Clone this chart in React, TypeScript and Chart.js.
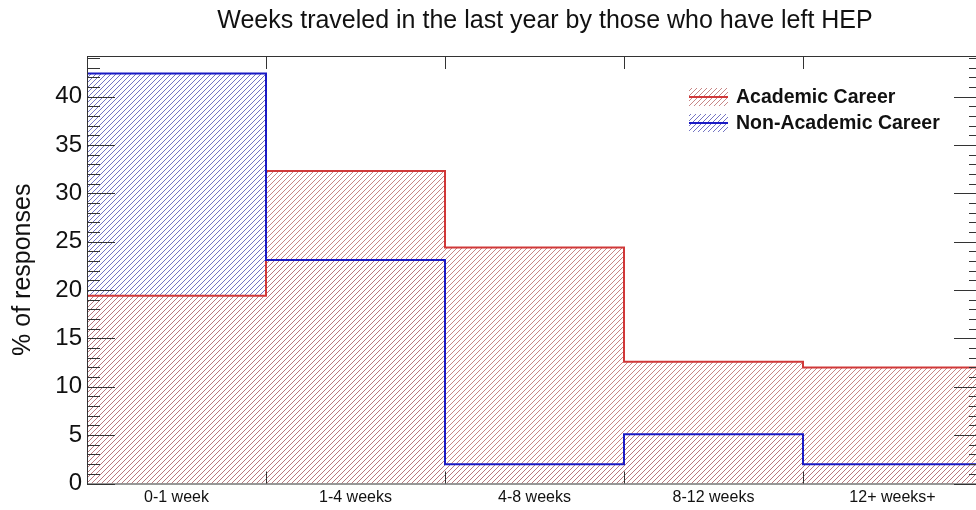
import React, { useEffect, useRef } from "react";
import { Chart, registerables } from "chart.js";

Chart.register(...registerables);

const FONT = "'Liberation Sans', Arial, Helvetica, sans-serif";

const titleText = "Weeks traveled in the last year by those who have left HEP";
const yTitle = "% of responses";
const categories = ["0-1 week", "1-4 weeks", "4-8 weeks", "8-12 weeks", "12+ weeks+"];
const academic = [19.4, 32.3, 24.4, 12.6, 12.0];
const nonAcademic = [42.4, 23.1, 2.0, 5.1, 2.0];
const seriesNames = ["Academic Career", "Non-Academic Career"];
const yTicks = [0, 5, 10, 15, 20, 25, 30, 35, 40];
const yMax = 44.2;

const RED_LINE = "#d03838";
const BLUE_LINE = "#1a1ac4";
const RED_HATCH = "#c27878";
const BLUE_HATCH = "#6464bc";

function makeHatch(color: string): CanvasPattern | string {
  const s = 5;
  const c = document.createElement("canvas");
  c.width = s;
  c.height = s;
  const g = c.getContext("2d");
  if (!g) return color;
  g.strokeStyle = color;
  g.lineWidth = 0.9;
  g.beginPath();
  g.moveTo(-1, s + 1);
  g.lineTo(s + 1, -1);
  g.moveTo(-1, 1);
  g.lineTo(1, -1);
  g.moveTo(s - 1, s + 1);
  g.lineTo(s + 1, s - 1);
  g.stroke();
  const p = g.createPattern(c, "repeat");
  return p || color;
}

function stepPoints(vals: number[]) {
  const pts = vals.map((v, i) => ({ x: i, y: v }));
  pts.push({ x: vals.length, y: vals[vals.length - 1] });
  return pts;
}

export default function App() {
  const ref = useRef<HTMLCanvasElement | null>(null);

  useEffect(() => {
    if (!ref.current) return;
    const redHatch = makeHatch(RED_HATCH);
    const blueHatch = makeHatch(BLUE_HATCH);

    const framePlugin = {
      id: "rootFrame",
      afterDraw(chart: any) {
        const { ctx, chartArea, scales } = chart;
        const { left, right, top, bottom } = chartArea;
        ctx.save();
        // title
        ctx.fillStyle = "#111";
        ctx.font = `25px ${FONT}`;
        ctx.textAlign = "center";
        ctx.textBaseline = "alphabetic";
        ctx.fillText(titleText, 545, 28);

        // frame
        ctx.strokeStyle = "#333";
        ctx.lineWidth = 1;
        ctx.strokeRect(left + 0.5, top + 0.5, right - left, bottom - top);

        // y ticks (major every 5, minor every 1)
        const ys = scales.y;
        ctx.beginPath();
        for (let v = 0; v <= Math.floor(yMax); v++) {
          const py = Math.round(ys.getPixelForValue(v)) + 0.5;
          const len = v % 5 === 0 ? 28 : 13;
          ctx.moveTo(left, py);
          ctx.lineTo(left + len, py);
          ctx.moveTo(right, py);
          ctx.lineTo(right - len, py);
        }
        // x ticks at bin edges
        const xs = scales.x;
        for (let i = 1; i < categories.length; i++) {
          const px = Math.round(xs.getPixelForValue(i)) + 0.5;
          ctx.moveTo(px, bottom);
          ctx.lineTo(px, bottom - 12);
          ctx.moveTo(px, top);
          ctx.lineTo(px, top + 13);
        }
        ctx.stroke();

        // legend
        const entries = [
          { name: seriesNames[0], hatch: redHatch, line: RED_LINE, y: 97 },
          { name: seriesNames[1], hatch: blueHatch, line: BLUE_LINE, y: 123 },
        ];
        for (const e of entries) {
          ctx.fillStyle = e.hatch as any;
          ctx.fillRect(689, e.y - 9, 39, 18);
          ctx.strokeStyle = e.line;
          ctx.lineWidth = 2;
          ctx.beginPath();
          ctx.moveTo(689, e.y);
          ctx.lineTo(728, e.y);
          ctx.stroke();
          ctx.fillStyle = "#111";
          ctx.font = `bold 19.5px ${FONT}`;
          ctx.textAlign = "left";
          ctx.textBaseline = "middle";
          ctx.fillText(e.name, 736, e.y + 1);
        }
        ctx.restore();
      },
    };

    const W = 1000;
    const chart = new Chart(ref.current, {
      type: "line",
      data: {
        datasets: [
          {
            label: seriesNames[1] + " line",
            data: stepPoints(nonAcademic),
            stepped: "before",
            borderColor: BLUE_LINE,
            borderWidth: 2,
            pointRadius: 0,
            fill: false,
            order: 1,
          },
          {
            label: seriesNames[0] + " line",
            data: stepPoints(academic),
            stepped: "before",
            borderColor: RED_LINE,
            borderWidth: 2,
            pointRadius: 0,
            fill: false,
            order: 2,
          },
          {
            label: seriesNames[0] + " fill",
            data: stepPoints(academic),
            stepped: "before",
            borderWidth: 0,
            borderColor: "rgba(0,0,0,0)",
            backgroundColor: redHatch as any,
            pointRadius: 0,
            fill: "origin",
            order: 3,
          },
          {
            label: seriesNames[1] + " fill",
            data: stepPoints(nonAcademic),
            stepped: "before",
            borderWidth: 0,
            borderColor: "rgba(0,0,0,0)",
            backgroundColor: blueHatch as any,
            pointRadius: 0,
            fill: "origin",
            order: 4,
          },
        ] as any,
      },
      options: {
        animation: false,
        responsive: true,
        maintainAspectRatio: false,
        layout: { padding: { top: 56, right: W - 982, left: 0, bottom: 0 } },
        plugins: {
          legend: { display: false },
          tooltip: { enabled: false },
          title: { display: false },
        },
        scales: {
          x: {
            type: "linear",
            min: 0,
            max: categories.length,
            grid: { display: false, drawTicks: false },
            border: { display: false },
            afterBuildTicks: (s: any) => {
              s.ticks = categories.map((_, i) => ({ value: i + 0.5 }));
            },
            afterFit: (s: any) => {
              s.height = 26.5;
            },
            ticks: {
              autoSkip: false,
              maxRotation: 0,
              padding: 4,
              color: "#111",
              font: { family: FONT, size: 16 },
              callback: (_v: any, i: number) => categories[i],
            },
          },
          y: {
            type: "linear",
            min: 0,
            max: yMax,
            grid: { display: false, drawTicks: false },
            border: { display: false },
            afterBuildTicks: (s: any) => {
              s.ticks = yTicks.map((v) => ({ value: v }));
            },
            afterFit: (s: any) => {
              s.width = 87;
            },
            ticks: {
              padding: 5,
              color: "#111",
              font: { family: FONT, size: 24 },
            },
            title: {
              display: true,
              text: yTitle,
              color: "#111",
              font: { family: FONT, size: 25 },
              padding: { top: 8, bottom: 0 },
            },
          },
        },
      } as any,
      plugins: [framePlugin],
    });
    return () => chart.destroy();
  }, []);

  return (
    <div
      style={{
        position: "fixed",
        left: 0,
        top: 0,
        width: 976,
        height: 510,
        overflow: "hidden",
        background: "#fff",
      }}
    >
      <div style={{ position: "relative", width: 1000, height: 510 }}>
        <canvas ref={ref} />
      </div>
    </div>
  );
}
